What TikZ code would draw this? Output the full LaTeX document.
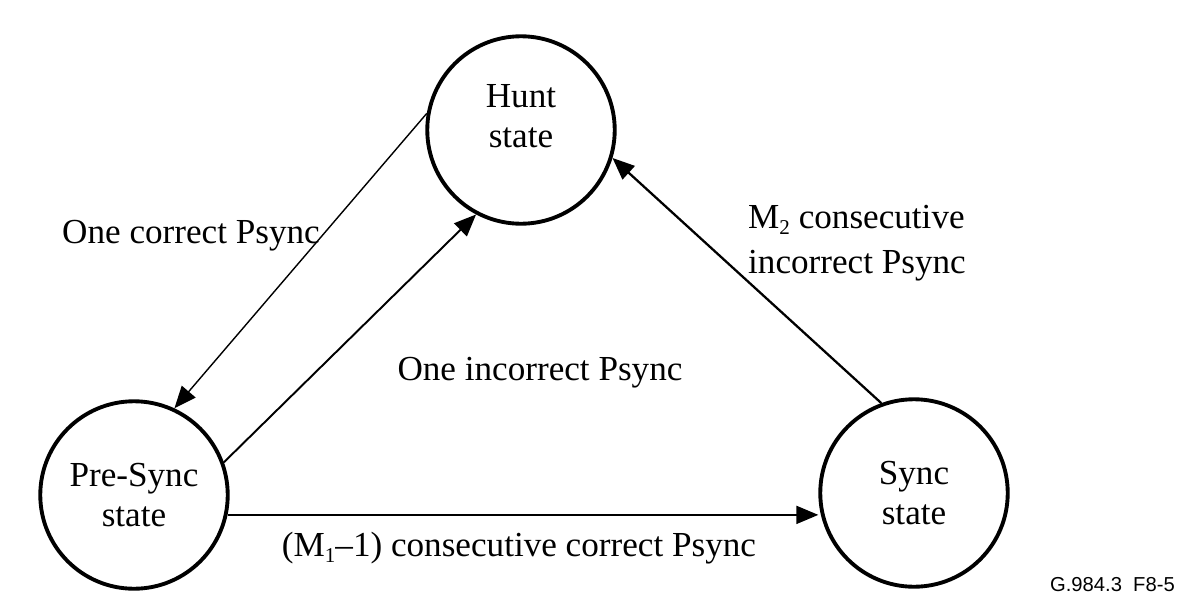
\documentclass[tikz,border=0pt]{standalone}
\usepackage{fontspec}
\setmainfont{Liberation Serif}
\newfontfamily\codefont{Liberation Sans}
\usetikzlibrary{arrows.meta,positioning}
\newcommand{\lowidx}[1]{\raisebox{-0.35ex}{\fontsize{12}{12}\selectfont #1}}

\begin{document}
\begin{tikzpicture}[x=0.02cm,y=-0.02cm,
  statestyle/.style={circle,draw,line width=2.2pt,minimum size=3.75cm,inner sep=0pt,align=center,font=\fontsize{20}{23}\selectfont},
  labelstyle/.style={font=\fontsize{20}{25.5}\selectfont},
  tip/.style={-{Triangle[length=0.44cm,width=0.36cm]}}]
\useasboundingbox (0,0) rectangle (1190,605);
\node[statestyle](hunt) at (521,130){Hunt\\state\\[-7pt]};
\node[statestyle](presync) at (134,495){Pre-Sync\\state};
\node[statestyle](sync) at (914,493){Sync\\state};
% transitions
\draw[tip,line width=0.8pt] (hunt.170) -- (presync.65);
\draw[tip,line width=1.1pt] (presync.20) -- (hunt.242);
\draw[tip,line width=1.3pt] (sync.110) -- (hunt.-17);
\draw[tip,line width=1.1pt] (presync.-12) -- (presync.-12 -| sync.west);
% labels
\node[labelstyle](lcorrect) at (191,236){One correct Psync};
\node[labelstyle](lincorrect) at (540,373){One incorrect Psync};
\node[labelstyle,align=left,anchor=west](lmtwo) at (742,243){M\lowidx{2} consecutive\\incorrect Psync};
\node[labelstyle](lmone) at (519,548){(M\lowidx{1}--1) consecutive correct Psync};
\node[font=\codefont\fontsize{11.5}{14}\selectfont,anchor=east](fig) at (1181,585){G.984.3\ \ F8-5};
\end{tikzpicture}
\end{document}
